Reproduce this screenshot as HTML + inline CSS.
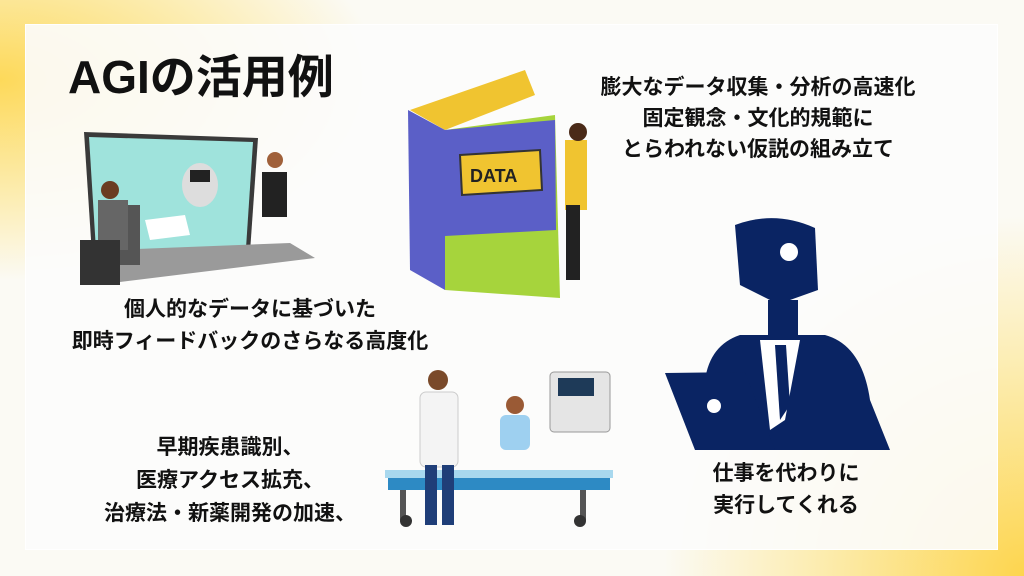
<!DOCTYPE html>
<html><head><meta charset="utf-8"><style>
html,body{margin:0;padding:0;width:1024px;height:576px;overflow:hidden;}
body{position:relative;font-family:"Liberation Sans","Noto Sans CJK JP",sans-serif;background:#fbfaf4;
background-image:radial-gradient(ellipse 380px 200px at 0px 80px,#fdd95a 0%,rgba(253,229,138,0.6) 60%,rgba(253,229,138,0) 100%),radial-gradient(circle 360px at 1024px 576px,#fdd54e 0%,rgba(253,229,138,0.6) 60%,rgba(253,229,138,0) 100%);}
svg{display:block;}
.card{position:absolute;left:25px;top:24px;width:973px;height:526px;box-sizing:border-box;background:rgba(252,252,252,0.9);border:1px solid #fff;}
.t{position:absolute;color:#111;font-weight:bold;text-align:center;white-space:nowrap;}
</style></head><body>
<div class="card"></div>
<svg style="position:absolute;left:0;top:0" width="1024" height="576" viewBox="0 0 1024 576">
<polygon points="84,132 258,138 250,252 92,255" fill="#3a3a3a"/>
<polygon points="89,137 253,142 246,248 96,250" fill="#9fe3dc"/>
<polygon points="110,250 290,243 315,258 120,282" fill="#9a9a9a"/>
<rect x="110" y="205" width="30" height="60" fill="#555"/>
<circle cx="110" cy="190" r="9" fill="#6b3d22"/>
<rect x="98" y="200" width="30" height="50" fill="#666"/>
<rect x="80" y="240" width="40" height="45" fill="#333"/>
<circle cx="275" cy="160" r="8" fill="#a0603a"/>
<rect x="262" y="172" width="25" height="45" fill="#222"/>
<ellipse cx="200" cy="185" rx="18" ry="22" fill="#ddd"/>
<rect x="190" y="170" width="20" height="12" fill="#222"/>
<polygon points="145,220 185,215 190,235 150,240" fill="#fff"/>
<polygon points="410,110 525,70 535,95 445,130" fill="#f0c430"/>
<polygon points="408,110 445,130 445,290 410,270" fill="#5b5fc7"/>
<polygon points="445,130 555,115 560,298 445,290" fill="#a6d43c"/>
<polygon points="445,130 555,120 556,230 445,236" fill="#5b5fc7"/>
<polygon points="460,155 540,150 542,190 462,195" fill="#f0c430" stroke="#333" stroke-width="2"/>
<text x="470" y="182" font-size="18" font-weight="bold" fill="#222" font-family="Liberation Sans">DATA</text>
<rect x="565" y="140" width="22" height="70" fill="#f0c430"/>
<circle cx="578" cy="132" r="9" fill="#4a2a18"/>
<rect x="566" y="205" width="14" height="75" fill="#222"/>
<rect x="388" y="475" width="222" height="15" fill="#2d8ac4"/>
<rect x="385" y="470" width="228" height="8" fill="#a8d8ee"/>
<rect x="400" y="490" width="6" height="30" fill="#555"/>
<rect x="580" y="490" width="6" height="30" fill="#555"/>
<circle cx="406" cy="521" r="6" fill="#333"/><circle cx="580" cy="521" r="6" fill="#333"/>
<rect x="550" y="372" width="60" height="60" rx="4" fill="#e5e5e5" stroke="#999"/>
<rect x="558" y="378" width="36" height="18" fill="#1e3a58"/>
<circle cx="438" cy="380" r="10" fill="#7a4a2a"/>
<rect x="420" y="392" width="38" height="75" rx="6" fill="#f4f4f4" stroke="#ccc"/>
<rect x="425" y="465" width="12" height="60" fill="#1f3e78"/><rect x="442" y="465" width="12" height="60" fill="#1f3e78"/>
<circle cx="515" cy="405" r="9" fill="#9a5a35"/>
<rect x="500" y="415" width="30" height="35" rx="6" fill="#9ed0f0"/>
<g fill="#0a2463">
<path d="M735,225 Q775,210 815,228 L818,290 L790,300 L770,300 L740,285 Z"/>
<rect x="768" y="300" width="30" height="40"/>
<path d="M705,380 Q710,345 740,335 L825,335 Q862,345 870,400 L890,450 L700,450 Z"/>
<path d="M665,373 L745,372 L775,450 L695,450 Z"/>
</g>
<circle cx="789" cy="252" r="9" fill="#fff"/>
<circle cx="714" cy="406" r="7" fill="#fff"/>
<polygon points="760,340 800,340 785,420 770,430" fill="#fff"/>
<polygon points="775,345 786,345 790,405 780,420" fill="#0a2463"/>
</svg>
<div class="t" style="left:68px;top:50px;font-size:46px;line-height:54px;">AGIの活用例</div>
<div class="t" style="left:580px;top:72px;width:356px;font-size:21px;line-height:31px;font-weight:600;">膨大なデータ収集・分析の高速化<br>固定観念・文化的規範に<br>とらわれない仮説の組み立て</div>
<div class="t" style="left:50px;top:294px;width:400px;font-size:21px;line-height:32px;font-weight:600;">個人的なデータに基づいた<br>即時フィードバックのさらなる高度化</div>
<div class="t" style="left:80px;top:431px;width:300px;font-size:21px;line-height:33px;font-weight:600;">早期疾患識別、<br>医療アクセス拡充、<br>治療法・新薬開発の加速、</div>
<div class="t" style="left:686px;top:458px;width:200px;font-size:21px;line-height:32px;font-weight:600;">仕事を代わりに<br>実行してくれる</div>
</body></html>
